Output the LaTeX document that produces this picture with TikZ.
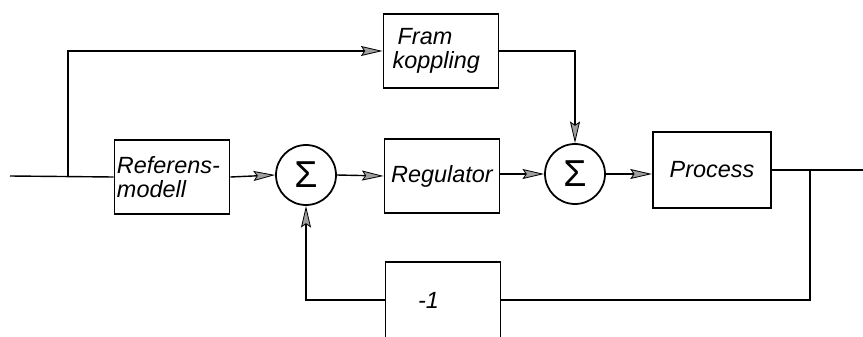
\documentclass[tikz,border=0pt]{standalone}
\usepackage{fontspec}
\setmainfont{Liberation Sans}
\usetikzlibrary{arrows.meta}
\tikzstyle{block} = [draw, line width=1.6pt, minimum width=3.45cm, minimum height=2.2cm, font=\fontsize{20}{21}\selectfont\itshape, inner sep=1pt]
\tikzstyle{summa} = [draw, circle, line width=1.5pt, minimum size=1.8cm, inner sep=0pt, font=\fontsize{32}{32}\selectfont]
\tikzstyle{line} = [line width=1.2pt]
\tikzstyle{arrow} = [line width=1.2pt, -{Stealth[length=0.65cm, width=0.3cm, inset=0.1cm, fill=gray!75, line width=0.7pt]}]

\begin{document}
\begin{tikzpicture}[x=0.03cm, y=-0.03cm]
        \clip (0,0) rectangle (863,337);
        % blocks
        \node [block, align=left, text width=3.3cm] (ref) at (172,177) {Referens-\\modell};
        \node [summa] (sum1) at (306,175) {Σ};
        \node [block] (reg) at (442,176) {Regulator};
        \node [block, align=left, text width=2.9cm] (fram) at (441,51) {\hspace{0.15cm}Fram\\koppling};
        \node [summa] (sum2) at (575,174) {Σ};
        \node [block, minimum width=3.55cm, minimum height=2.3cm] (proc) at (712,170) {Process};
        \node [block, minimum height=2.3cm] (neg) at (443,300) {\makebox[1.5cm][l]{-1}};
        % signal points
        \coordinate (in) at (10,176);
        \coordinate (br) at (68,176);
        \coordinate (out) at (863,170);
        \coordinate (ob) at (810,170);
        % connectors
        \draw [line] (in) -- (ref.west);
        \draw [arrow] (br) |- (fram.west);
        \draw [arrow] (ref.east) -- (sum1.west);
        \draw [arrow] (sum1.east) -- (reg.west);
        \draw [arrow] (reg.east |- sum2.west) -- (sum2.west);
        \draw [arrow] (fram.east) -| (sum2.north);
        \draw [arrow] (sum2.east) -- (sum2.east -| proc.west);
        \draw [line] (proc.east |- out) -- (out);
        \draw [line] (ob) |- (neg.east);
        \draw [arrow] (neg.west) -| (sum1.south);
\end{tikzpicture}
\end{document}
